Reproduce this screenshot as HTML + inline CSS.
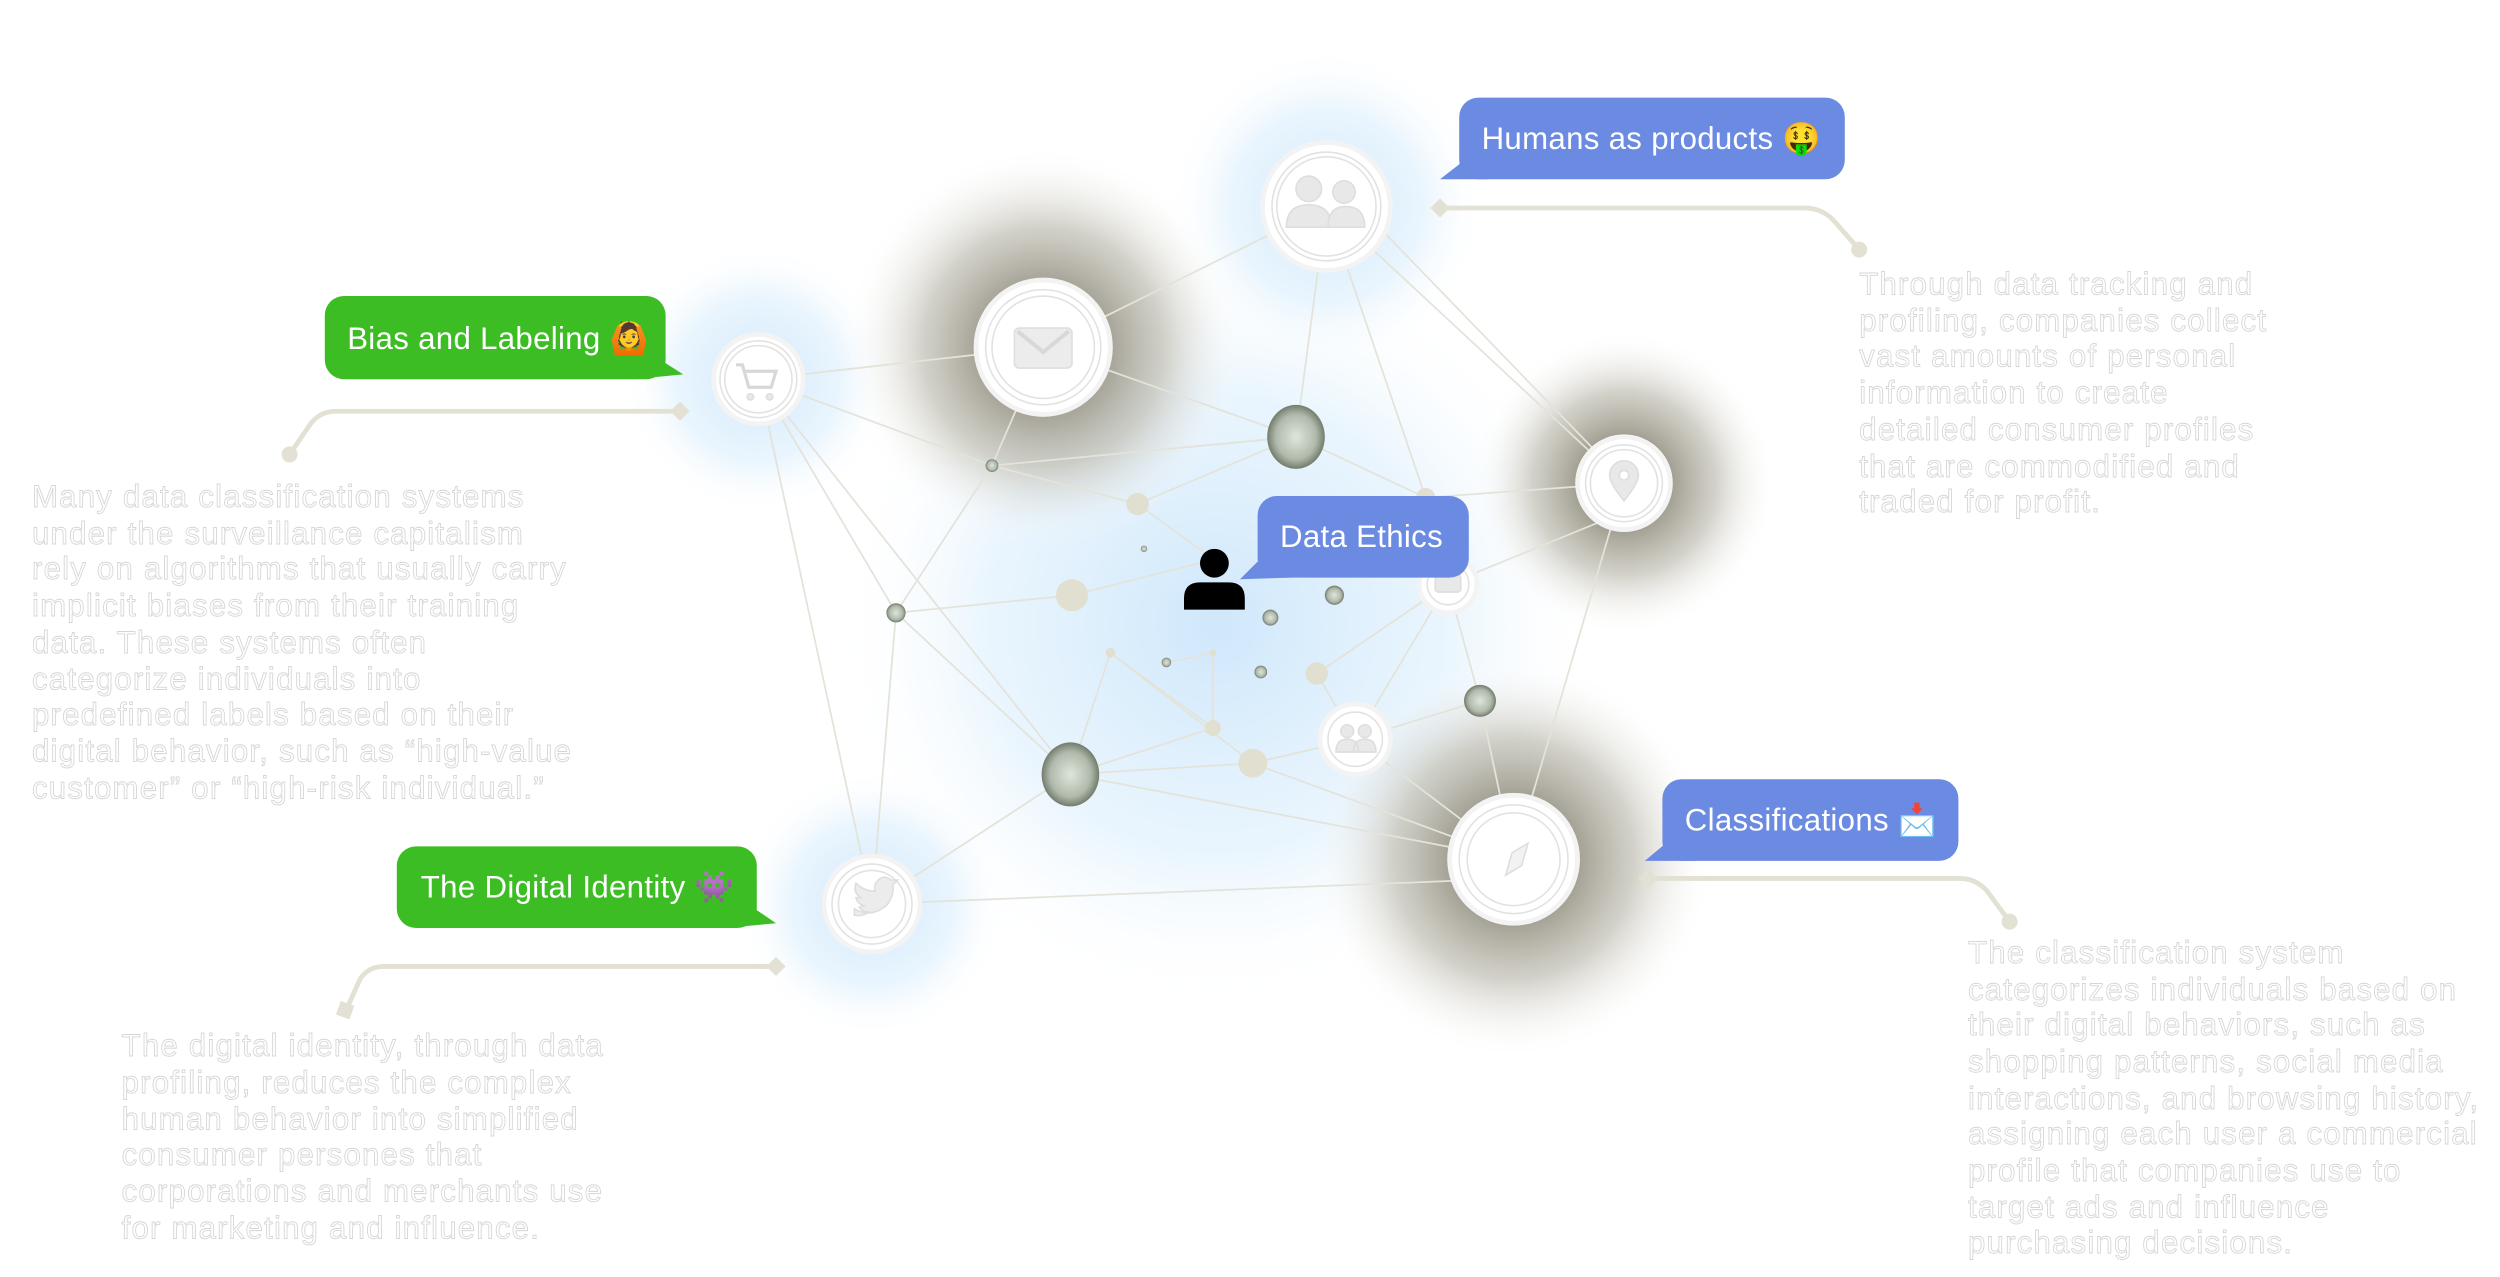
<!DOCTYPE html>
<html><head><meta charset="utf-8"><style>
html,body{margin:0;padding:0;background:#fff;width:2500px;height:1277px;overflow:hidden}
svg{display:block}
.b{font-family:"Liberation Sans",sans-serif;font-size:19.5px;letter-spacing:0.2px;fill:#fff}
.d{font-family:"Liberation Sans",sans-serif;font-size:19.5px;letter-spacing:0.75px;fill:#fff;stroke:#d6d6d6;stroke-width:0.55px}
.e line{stroke:#e4e3da;stroke-width:1.1}
</style></head><body>
<svg width="2500" height="1277" viewBox="0 0 1562.5 798.1" xmlns="http://www.w3.org/2000/svg">
<defs>
<radialGradient id="blue"><stop offset="0" stop-color="#cfe7fb" stop-opacity="1"/><stop offset="0.6" stop-color="#def0fd" stop-opacity="0.65"/><stop offset="1" stop-color="#fff" stop-opacity="0"/></radialGradient>
<radialGradient id="dark"><stop offset="0.3" stop-color="#9f9c8f" stop-opacity="1"/><stop offset="0.6" stop-color="#bfbdb1" stop-opacity="0.7"/><stop offset="1" stop-color="#fff" stop-opacity="0"/></radialGradient>
<radialGradient id="ph"><stop offset="0" stop-color="#dfe5da"/><stop offset="0.7" stop-color="#b0baac"/><stop offset="1" stop-color="#737c6c"/></radialGradient>
</defs>
<circle cx="760" cy="390" r="240" fill="url(#blue)"/>
<circle cx="829" cy="129" r="100" fill="url(#blue)"/>
<circle cx="474" cy="237" r="85" fill="url(#blue)"/>
<circle cx="545" cy="565" r="85" fill="url(#blue)"/>
<circle cx="652" cy="217" r="125" fill="url(#dark)"/>
<circle cx="1015" cy="302" r="95" fill="url(#dark)"/>
<circle cx="946" cy="537" r="125" fill="url(#dark)"/>
<g class="e">
<line x1="474" y1="237" x2="652" y2="217"/><line x1="652" y1="217" x2="829" y2="129"/>
<line x1="829" y1="129" x2="810" y2="273"/><line x1="829" y1="129" x2="891" y2="311"/>
<line x1="829" y1="129" x2="1015" y2="302"/><line x1="860" y1="140" x2="1005" y2="290"/>
<line x1="652" y1="217" x2="810" y2="273"/><line x1="652" y1="217" x2="620" y2="291"/>
<line x1="474" y1="237" x2="620" y2="291"/><line x1="474" y1="237" x2="560" y2="383"/>
<line x1="474" y1="237" x2="545" y2="565"/><line x1="474" y1="237" x2="669" y2="484"/>
<line x1="620" y1="291" x2="810" y2="273"/><line x1="620" y1="291" x2="711" y2="315"/>
<line x1="620" y1="291" x2="560" y2="383"/><line x1="560" y1="383" x2="670" y2="372"/>
<line x1="560" y1="383" x2="669" y2="484"/><line x1="711" y1="315" x2="810" y2="273"/>
<line x1="711" y1="315" x2="759" y2="350"/><line x1="891" y1="311" x2="1015" y2="302"/>
<line x1="810" y1="273" x2="891" y2="311"/><line x1="905" y1="365" x2="1015" y2="320"/>
<line x1="1015" y1="302" x2="946" y2="537"/><line x1="905" y1="365" x2="925" y2="438"/>
<line x1="925" y1="438" x2="946" y2="537"/><line x1="925" y1="438" x2="847" y2="462"/>
<line x1="694" y1="408" x2="758" y2="455"/><line x1="694" y1="408" x2="669" y2="484"/>
<line x1="694" y1="408" x2="783" y2="477"/><line x1="669" y1="484" x2="758" y2="455"/>
<line x1="669" y1="484" x2="783" y2="477"/><line x1="669" y1="484" x2="946" y2="537"/>
<line x1="783" y1="477" x2="847" y2="462"/><line x1="823" y1="421" x2="905" y2="365"/>
<line x1="847" y1="462" x2="905" y2="365"/><line x1="545" y1="565" x2="946" y2="549"/>
<line x1="545" y1="565" x2="669" y2="484"/><line x1="545" y1="565" x2="560" y2="383"/>
<line x1="847" y1="462" x2="946" y2="537"/><line x1="783" y1="477" x2="946" y2="537"/>
<line x1="670" y1="372" x2="758" y2="350"/><line x1="823" y1="421" x2="847" y2="462"/>
<line x1="758" y1="408" x2="758" y2="455"/><line x1="729" y1="414" x2="758" y2="408"/>
</g>
<g fill="#fff" stroke="#e2e2e2" stroke-width="1">
<circle cx="829" cy="129" r="40" stroke="#f3f3f3" stroke-width="3"/><circle cx="829" cy="129" r="34"/><circle cx="829" cy="129" r="31"/>
<circle cx="652" cy="217" r="42" stroke="#f3f3f3" stroke-width="3"/><circle cx="652" cy="217" r="36"/><circle cx="652" cy="217" r="32"/>
<circle cx="474" cy="237" r="28" stroke="#f3f3f3" stroke-width="3"/><circle cx="474" cy="237" r="24"/><circle cx="474" cy="237" r="21"/>
<circle cx="1015" cy="302" r="29" stroke="#f3f3f3" stroke-width="3"/><circle cx="1015" cy="302" r="24"/><circle cx="1015" cy="302" r="21"/>
<circle cx="946" cy="537" r="40" stroke="#f3f3f3" stroke-width="3"/><circle cx="946" cy="537" r="34"/><circle cx="946" cy="537" r="29"/>
<circle cx="545" cy="565" r="30" stroke="#f3f3f3" stroke-width="3"/><circle cx="545" cy="565" r="25"/><circle cx="545" cy="565" r="21"/>
<circle cx="847" cy="462" r="22" stroke="#f3f3f3" stroke-width="3"/><circle cx="847" cy="462" r="17"/>
<circle cx="905" cy="365" r="18" stroke="#f3f3f3" stroke-width="3"/><circle cx="905" cy="365" r="13"/>
</g>
<g fill="#e8e8e8" stroke="#dedede" stroke-width="1">
<circle cx="818" cy="118" r="8"/><path d="M804 142 q0-14 14-14 q14 0 14 14z"/><circle cx="840" cy="120" r="7"/><path d="M830 142 q0-13 11-13 q12 0 12 13z"/>
<rect x="634" y="205" width="36" height="25" rx="3" fill="#ececec"/><path d="M636 207 l16 13 l16-13" fill="none" stroke="#d8d8d8" stroke-width="2.5"/>
<path d="M460 228 h4 l4 14 h14 l3-10 h-20" fill="none" stroke="#d8d8d8" stroke-width="2"/><circle cx="469" cy="248" r="2"/><circle cx="481" cy="248" r="2"/>
<path d="M1015 313 q-9-11-9-16 a9 9 0 0 1 18 0 q0 5-9 16z"/><circle cx="1015" cy="297" r="3" fill="#fff"/>
<path d="M955 527 l-4 14 l-10 6 l4-14z" fill="#f2f2f2"/>
<path d="M534 568 q10 6 20-2 q5-6 4-13 l3-3 l-4 0 q-5-4-9 1 q-2 3-1 6 q-7 0-12-5 q-2 6 3 9 l-3 0 q1 4 5 5 l-3 1 q2 3 6 3 q-4 3-9 2z" fill="#ececec"/>
<circle cx="842" cy="457" r="4"/><circle cx="853" cy="457" r="4"/><path d="M835 470 q0-8 7-8 q7 0 7 8z M846 470 q0-8 7-8 q7 0 7 8z"/>
<rect x="897" y="359" width="16" height="11" rx="2"/>
</g>
<g fill="url(#ph)">
<ellipse cx="810" cy="273" rx="18" ry="20"/><ellipse cx="669" cy="484" rx="18" ry="20"/>
<circle cx="925" cy="438" r="10"/><circle cx="620" cy="291" r="4"/><circle cx="560" cy="383" r="6"/>
<circle cx="834" cy="372" r="6"/><circle cx="794" cy="386" r="5"/><circle cx="788" cy="420" r="4"/>
<circle cx="729" cy="414" r="3"/><circle cx="715" cy="343" r="2"/>
</g>
<g fill="#e1dfcf">
<circle cx="711" cy="315" r="7"/><circle cx="670" cy="372" r="10"/><circle cx="823" cy="421" r="7"/>
<circle cx="783" cy="477" r="9"/><circle cx="758" cy="455" r="5"/><circle cx="891" cy="311" r="6"/>
<circle cx="694" cy="408" r="3"/><circle cx="758" cy="408" r="2"/>
</g>
<circle cx="759" cy="352" r="9" fill="#000"/><path d="M740 381 v-7 q0-10 10-10 h18 q10 0 10 10 v7z" fill="#000"/>
<g fill="none" stroke="#e2e1d3" stroke-width="3">
<path d="M900 130 H1128 q12 0 20 10 L1162 156"/>
<path d="M425 257 H210 q-10 0-16 8 L181 284"/>
<path d="M485 604 H240 q-10 0-15 8 L216 632"/>
<path d="M1030 549 H1225 q10 0 17 8 L1256 576"/>
</g>
<g fill="#e2e1d3">
<path d="M900 124 l6 6 l-6 6 l-6-6z"/><circle cx="1162" cy="156" r="5"/>
<path d="M425 251 l6 6 l-6 6 l-6-6z"/><circle cx="181" cy="284" r="5"/>
<path d="M485 598 l6 6 l-6 6 l-6-6z"/><rect x="211" y="627" width="9" height="9" transform="rotate(20 216 632)"/>
<path d="M1030 543 l6 6 l-6 6 l-6-6z"/><circle cx="1256" cy="576" r="5"/>
</g>
<g fill="#6b8ae1">
<rect x="912" y="61" width="241" height="51" rx="12"/><path d="M918 98 L900 112 L930 112z"/>
<rect x="786" y="310" width="132" height="51" rx="12"/><path d="M792 345 L775 362 L806 361z"/>
<rect x="1039" y="487" width="185" height="51" rx="12"/><path d="M1046 523 L1028 538 L1060 538z"/>
</g>
<g fill="#3dbd24">
<rect x="203" y="185" width="213" height="52" rx="12"/><path d="M405 220 L427 234 L395 237z"/>
<rect x="248" y="529" width="225" height="51" rx="12"/><path d="M463 562 L485 577 L453 580z"/>
</g>
<text class="b" x="926" y="93">Humans as products 🤑</text>
<text class="b" x="800" y="342">Data Ethics</text>
<text class="b" x="1053" y="519">Classifications 📩</text>
<text class="b" x="217" y="218">Bias and Labeling 🙆</text>
<text class="b" x="263" y="561">The Digital Identity 👾</text>
<text class="d">
<tspan x="1162" y="184">Through data tracking and</tspan>
<tspan x="1162" y="207">profiling, companies collect</tspan>
<tspan x="1162" y="229">vast amounts of personal</tspan>
<tspan x="1162" y="252">information to create</tspan>
<tspan x="1162" y="275">detailed consumer profiles</tspan>
<tspan x="1162" y="298">that are commodified and</tspan>
<tspan x="1162" y="320">traded for profit.</tspan>
</text>
<text class="d">
<tspan x="20" y="317">Many data classification systems</tspan>
<tspan x="20" y="340">under the surveillance capitalism</tspan>
<tspan x="20" y="362">rely on algorithms that usually carry</tspan>
<tspan x="20" y="385">implicit biases from their training</tspan>
<tspan x="20" y="408">data. These systems often</tspan>
<tspan x="20" y="431">categorize individuals into</tspan>
<tspan x="20" y="453">predefined labels based on their</tspan>
<tspan x="20" y="476">digital behavior, such as “high-value</tspan>
<tspan x="20" y="499">customer” or “high-risk individual.”</tspan>
</text>
<text class="d">
<tspan x="76" y="660">The digital identity, through data</tspan>
<tspan x="76" y="683">profiling, reduces the complex</tspan>
<tspan x="76" y="706">human behavior into simplified</tspan>
<tspan x="76" y="728">consumer persones that</tspan>
<tspan x="76" y="751">corporations and merchants use</tspan>
<tspan x="76" y="774">for marketing and influence.</tspan>
</text>
<text class="d">
<tspan x="1230" y="602">The classification system</tspan>
<tspan x="1230" y="625">categorizes individuals based on</tspan>
<tspan x="1230" y="647">their digital behaviors, such as</tspan>
<tspan x="1230" y="670">shopping patterns, social media</tspan>
<tspan x="1230" y="693">interactions, and browsing history,</tspan>
<tspan x="1230" y="715">assigning each user a commercial</tspan>
<tspan x="1230" y="738">profile that companies use to</tspan>
<tspan x="1230" y="761">target ads and influence</tspan>
<tspan x="1230" y="783">purchasing decisions.</tspan>
</text>
</svg>
</body></html>
